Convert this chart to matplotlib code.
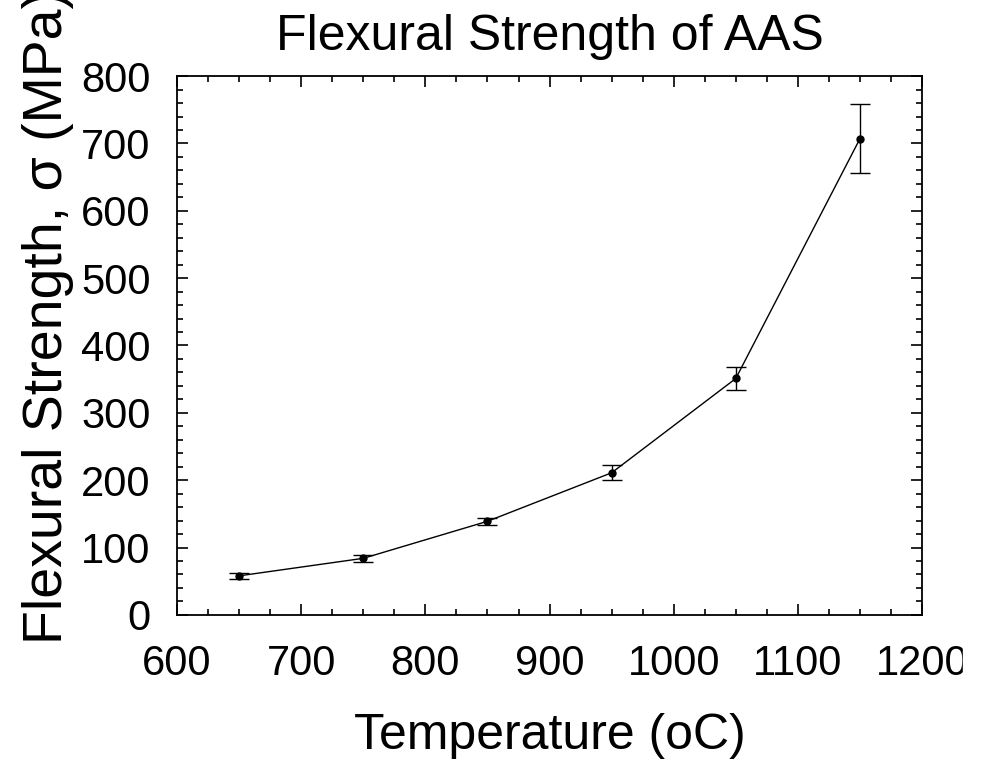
import matplotlib
matplotlib.use("Agg")
import matplotlib.pyplot as plt
from matplotlib.patches import Rectangle
from matplotlib.ticker import MultipleLocator

plt.rcParams["font.family"] = ["Liberation Sans", "DejaVu Sans"]

# ---------------- Data ------------------------------------------------
temperature = [650, 750, 850, 950, 1050, 1150]
strength = [58, 84, 139, 211, 351, 707]
strength_err = [4, 5, 5, 11, 17, 51]

# ---------------- Figure ----------------------------------------------
fig = plt.figure(figsize=(9.84, 7.61), dpi=100)
ax = fig.add_axes([0.180, 0.192, 0.757, 0.708])

ax.errorbar(temperature, strength, yerr=strength_err, fmt="o-", color="black",
            ms=5, lw=1.0, elinewidth=1.0, capsize=7, capthick=1.0)

ax.set_xlim(600, 1200)
ax.set_ylim(0, 800)
ax.xaxis.set_major_locator(MultipleLocator(100))
ax.xaxis.set_minor_locator(MultipleLocator(25))
ax.yaxis.set_major_locator(MultipleLocator(100))
ax.yaxis.set_minor_locator(MultipleLocator(20))
ax.tick_params(which="both", direction="in", top=True, right=True,
               width=1.2, labelsize=30)
ax.tick_params(axis="x", which="major", pad=21)
ax.tick_params(axis="y", which="major", pad=19)
ax.tick_params(which="major", length=8)
ax.tick_params(which="minor", length=4)
for s in ax.spines.values():
    s.set_linewidth(1.3)

ax.set_title("Flexural Strength of AAS", fontsize=36, pad=19)
ax.set_xlabel("Temperature (oC)", fontsize=36, labelpad=21)
ax.set_ylabel("Flexural Strength, σ (MPa)", fontsize=40)
ax.yaxis.set_label_coords(-0.138, 0.552)

# the reference image is cut off just past the "1200" label
fig.patches.append(Rectangle((963 / 984, 0), 1, 1, transform=fig.transFigure,
                             color="white", zorder=10))

fig.savefig("out.png", dpi=100)
